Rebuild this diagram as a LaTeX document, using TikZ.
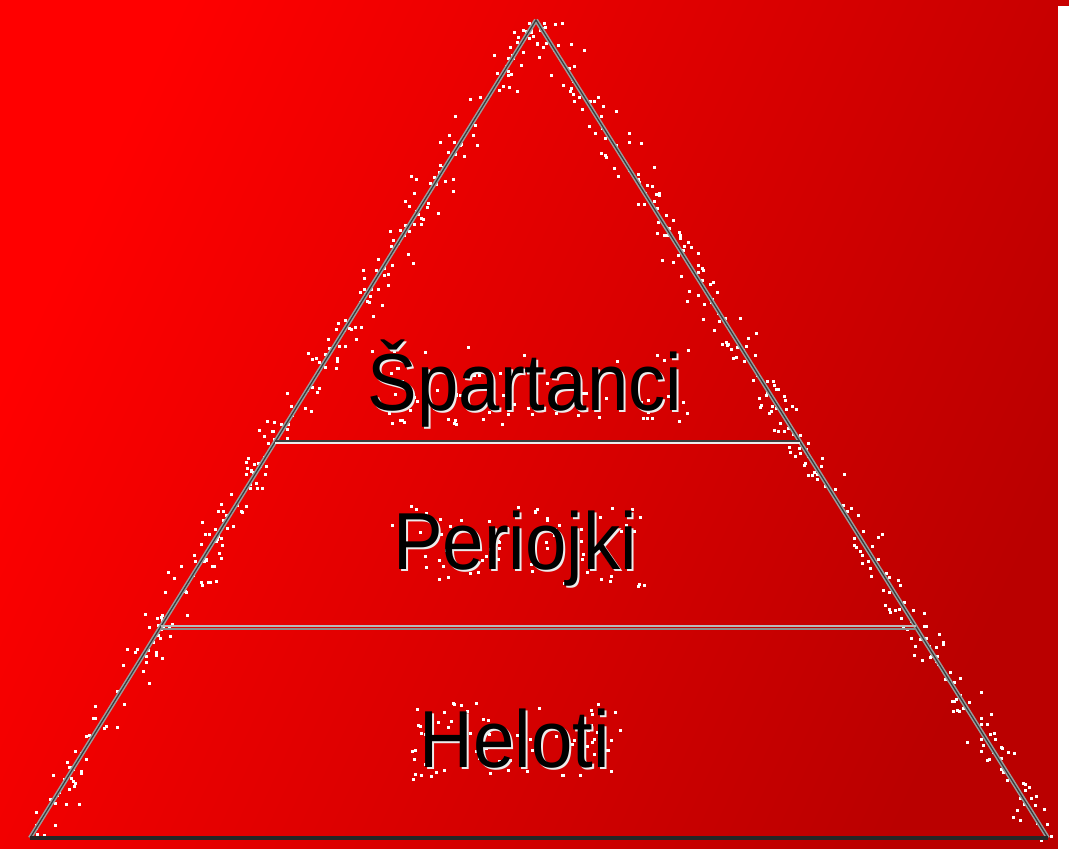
\documentclass[tikz,border=0pt]{standalone}
\usepackage{fontspec}
\setmainfont{Liberation Sans}
\usetikzlibrary{calc}

\definecolor{bgbright}{RGB}{255,0,0}
\definecolor{bgdark}{RGB}{186,0,0}
\definecolor{edgegray}{RGB}{155,155,155}
\definecolor{edgedark}{RGB}{60,60,60}

\tikzset{
  tier/.style={font=\fontsize{23}{23}\selectfont, text=black, xscale=0.92,
    inner sep=0pt, anchor=base},
  tiershadow/.style={tier, text=white!85!gray},
  edge/.style={draw=edgegray, line width=1.2pt},
  edgecore/.style={draw=edgedark, line width=0.35pt},
  speck/.style={fill=white, draw=none}
}

\begin{document}
\begin{tikzpicture}[x=0.01cm, y=-0.01cm]
\useasboundingbox (0,0) rectangle (1069,849);

% background
\shade[top color=bgbright, bottom color=bgdark, shading angle=65]
  (0,0) rectangle (1069,849);
\fill[white] (1058,6) rectangle (1069,849);

% corners of the pyramid
\coordinate (apex) at (536,20);
\coordinate (baseL) at (30,838);
\coordinate (baseR) at (1048,838);
\coordinate (l1) at ($(apex)!0.515!(baseL)$);
\coordinate (r1) at ($(apex)!0.515!(baseR)$);
\coordinate (l2) at ($(apex)!0.742!(baseL)$);
\coordinate (r2) at ($(apex)!0.742!(baseR)$);

% speckles along the sides
\pgfmathsetseed{11}
\foreach \sx/\sy/\dx/\dy/\nx/\ny in {536/20/-506/818/0.851/0.526, 536/20/512/818/0.848/-0.531}{
  \foreach \i in {1,...,280}{
    \pgfmathsetmacro\t{rnd}
    \pgfmathsetmacro\o{(rnd-0.5)*(rnd+0.3)*40}
    \fill[speck] (\sx+\t*\dx+\o*\nx, \sy+\t*\dy+\o*\ny) rectangle ++(3,3);
  }
}

% sides
\draw[edge] (apex) -- (baseL);
\draw[edge] (apex) -- (baseR);
\draw[edgecore] (apex) -- (baseL);
\draw[edgecore] (apex) -- (baseR);
\draw[draw=black!85, line width=0.9pt] (baseL) -- (baseR);

% tier lines
\draw[draw=edgedark, line width=0.55pt] ([yshift=0.006cm]l1) -- ([yshift=0.006cm]r1);
\draw[draw=white!85!gray, line width=0.55pt] ([yshift=-0.014cm]l1) -- ([yshift=-0.014cm]r1);
\draw[draw=gray!55, line width=0.75pt] ([yshift=0.008cm]l2) -- ([yshift=0.008cm]r2);
\draw[draw=gray!90, line width=0.55pt] ([yshift=-0.016cm]l2) -- ([yshift=-0.016cm]r2);

% speckles around the labels
\foreach \cx/\cy/\w in {525/385/330, 515/545/260, 515/740/210}{
  \foreach \i in {1,...,70}{
    \pgfmathsetmacro\px{\cx+(rnd-0.5)*\w}
    \pgfmathsetmacro\py{\cy+(rnd-0.5)*80}
    \fill[speck] (\px,\py) rectangle ++(3,3);
  }
}

% labels
\node[tiershadow] (spartanciS) at (527,413) {Špartanci};
\node[tier] (spartanci) at (525,411) {Špartanci};
\node[tiershadow] (periojkiS) at (517,572) {Periojki};
\node[tier] (periojki) at (515,570) {Periojki};
\node[tiershadow] (helotiS) at (517,770) {Heloti};
\node[tier] (heloti) at (515,768) {Heloti};
\end{tikzpicture}
\end{document}
